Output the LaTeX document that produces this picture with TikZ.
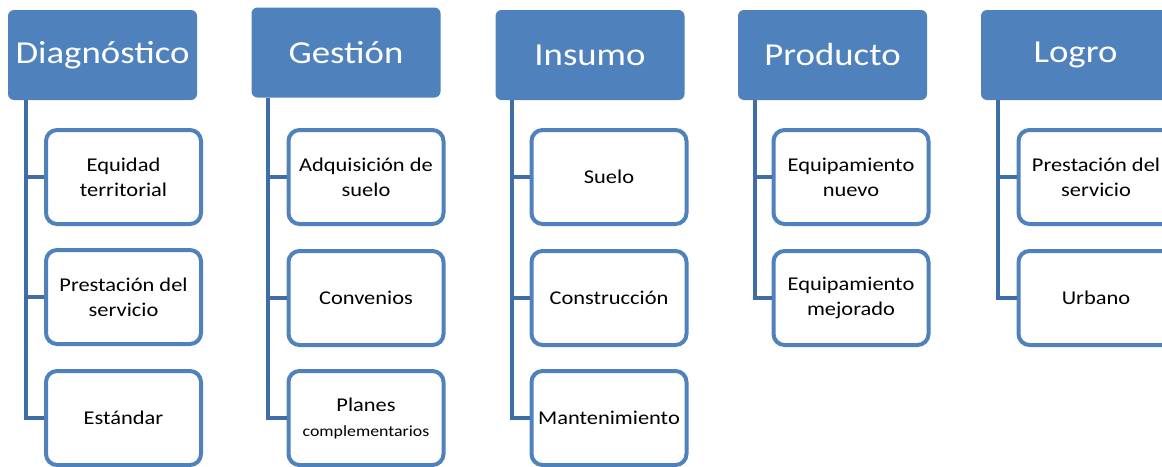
\documentclass[tikz,border=0pt]{standalone}
\usepackage{fontspec}
\setmainfont{Carlito}[FakeStretch=1.15]
\definecolor{hdrblue}{HTML}{4F81BD}
\definecolor{linkblue}{HTML}{3F6DA6}
\tikzset{
  header/.style={fill=hdrblue, rounded corners=6pt, minimum width=189pt, minimum height=90pt,
    text=white, font=\fontsize{32}{36}\selectfont, inner sep=0pt},
  item/.style={draw=hdrblue, line width=4pt, fill=white, rounded corners=11pt,
    minimum width=155pt, minimum height=94pt, align=center, inner sep=0pt,
    font=\fontsize{19.5}{25}\selectfont},
  link/.style={draw=linkblue, line width=4.5pt},
}
\begin{document}
\begin{tikzpicture}[x=1pt, y=-1pt]
		\useasboundingbox (0,0) rectangle (1162,466);
		\clip (0,0) rectangle (1162,466);

		% Diagnostico
		\node[header] (diag) at (102.5,55) {Diagnóstico};
		\node[item] (diag1) at (123.5,177) {Equidad\\territorial};
		\node[item] (diag2) at (123.5,297) {Prestación del\\servicio};
		\node[item] (diag3) at (123.5,418) {Estándar};
		\coordinate (diag0) at (diag.south -| 26,0);
		\draw[link] (diag0) |- (diag3.west);
		\draw[link] (diag1.west) -- (diag1.west -| diag0);
		\draw[link] (diag2.west) -- (diag2.west -| diag0);

		% Gestion
		\node[header] (gest) at (346,52.5) {Gestión};
		\node[item] (gest1) at (366,177) {Adquisición de\\suelo};
		\node[item] (gest2) at (366,298) {Convenios};
		\node[item] (gest3) at (366,418) {Planes\\{\fontsize{15.5}{18}\selectfont complementarios}};
		\coordinate (gest0) at (gest.south -| 268,0);
		\draw[link] (gest0) |- (gest3.west);
		\draw[link] (gest1.west) -- (gest1.west -| gest0);
		\draw[link] (gest2.west) -- (gest2.west -| gest0);

		% Insumo
		\node[header] (ins) at (590,55) {Insumo};
		\node[item] (ins1) at (609,177) {Suelo};
		\node[item] (ins2) at (609,298) {Construcción};
		\node[item] (ins3) at (609,418) {Mantenimiento};
		\coordinate (ins0) at (ins.south -| 512,0);
		\draw[link] (ins0) |- (ins3.west);
		\draw[link] (ins1.west) -- (ins1.west -| ins0);
		\draw[link] (ins2.west) -- (ins2.west -| ins0);

		% Producto
		\node[header] (prod) at (832.5,55) {Producto};
		\node[item] (prod1) at (851,177) {Equipamiento\\nuevo};
		\node[item] (prod2) at (851,298) {Equipamiento\\mejorado};
		\coordinate (prod0) at (prod.south -| 755,0);
		\draw[link] (prod0) |- (prod2.west);
		\draw[link] (prod1.west) -- (prod1.west -| prod0);

		% Logro
		\node[header] (logro) at (1075.5,55) {Logro};
		\node[item] (logro1) at (1096,177) {Prestación del\\servicio};
		\node[item] (logro2) at (1096,298) {Urbano};
		\coordinate (logro0) at (logro.south -| 998,0);
		\draw[link] (logro0) |- (logro2.west);
		\draw[link] (logro1.west) -- (logro1.west -| logro0);
\end{tikzpicture}
\end{document}
